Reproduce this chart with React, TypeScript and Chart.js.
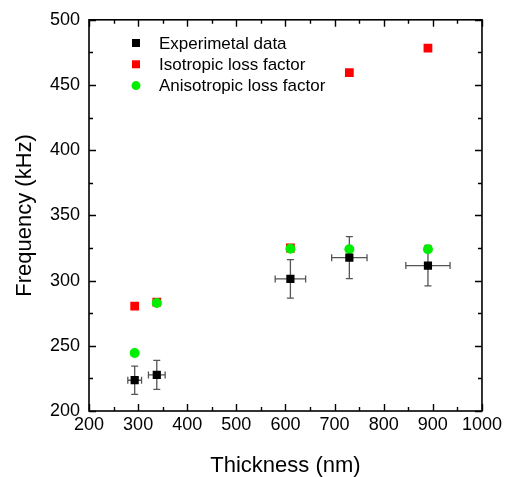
import React, { useEffect, useRef } from "react";
import { Chart, registerables } from "chart.js";

Chart.register(...registerables);

// ---- data ----
const seriesNames = ["Experimetal data", "Isotropic loss factor", "Anisotropic loss factor"];
const thickness = [293, 338, 610, 730, 890];
const thicknessErr = [14, 17, 31, 36, 45];
const expFreq = [223.6, 227.7, 301.3, 317.6, 311.5];
const expFreqErr = [10.8, 11.1, 14.8, 16.1, 15.5];
const isoFreq = [280.5, 283.5, 325, 459.5, 478.3];
const anisoFreq = [244.5, 282.8, 324.4, 324, 324];
const xMin = 200, xMax = 1000, xStep = 100;
const yMin = 200, yMax = 500, yStep = 50;

const FONT = "'Liberation Sans', Arial, sans-serif";
const BLACK = "#000000";
const RED = "#ff0000";
const GREEN = "#00ee00";

const errorBarPlugin = {
  id: "errorBars",
  beforeDatasetsDraw(chart: any) {
    const { ctx, scales } = chart;
    const xs = scales.x, ys = scales.y;
    ctx.save();
    ctx.strokeStyle = "#555555";
    ctx.lineWidth = 1.3;
    const cap = 3.5;
    thickness.forEach((t, i) => {
      const px = xs.getPixelForValue(t);
      const py = ys.getPixelForValue(expFreq[i]);
      const x1 = xs.getPixelForValue(t - thicknessErr[i]);
      const x2 = xs.getPixelForValue(t + thicknessErr[i]);
      const y1 = ys.getPixelForValue(expFreq[i] + expFreqErr[i]);
      const y2 = ys.getPixelForValue(expFreq[i] - expFreqErr[i]);
      ctx.beginPath();
      ctx.moveTo(x1, py); ctx.lineTo(x2, py);
      ctx.moveTo(x1, py - cap); ctx.lineTo(x1, py + cap);
      ctx.moveTo(x2, py - cap); ctx.lineTo(x2, py + cap);
      ctx.moveTo(px, y1); ctx.lineTo(px, y2);
      ctx.moveTo(px - cap, y1); ctx.lineTo(px + cap, y1);
      ctx.moveTo(px - cap, y2); ctx.lineTo(px + cap, y2);
      ctx.stroke();
    });
    ctx.restore();
  },
};

const framePlugin = {
  id: "frameTicks",
  afterDraw(chart: any) {
    const { ctx, chartArea: a, scales } = chart;
    const xs = scales.x, ys = scales.y;
    ctx.save();
    ctx.strokeStyle = "#000";
    ctx.lineWidth = 1.4;
    ctx.beginPath();
    const major = 7, minor = 4;
    for (let v = xMin; v <= xMax; v += xStep / 2) {
      const p = Math.round(xs.getPixelForValue(v)) + 0.5;
      const len = (v - xMin) % xStep === 0 ? major : minor;
      ctx.moveTo(p, a.bottom); ctx.lineTo(p, a.bottom - len);
      ctx.moveTo(p, a.top); ctx.lineTo(p, a.top + len);
    }
    for (let v = yMin; v <= yMax; v += yStep / 2) {
      const p = Math.round(ys.getPixelForValue(v)) + 0.5;
      const len = (v - yMin) % yStep === 0 ? major : minor;
      ctx.moveTo(a.left, p); ctx.lineTo(a.left + len, p);
      ctx.moveTo(a.right, p); ctx.lineTo(a.right - len, p);
    }
    ctx.stroke();
    ctx.lineWidth = 1.6;
    ctx.strokeRect(a.left, a.top, a.right - a.left, a.bottom - a.top);

    // legend
    const colors = [BLACK, RED, GREEN];
    const styles = ["rect", "rect", "circle"];
    const lx = 136, ly = 43, gap = 21.3;
    ctx.font = `17px ${FONT}`;
    ctx.textBaseline = "middle";
    ctx.textAlign = "left";
    seriesNames.forEach((name, i) => {
      const y = ly + i * gap;
      ctx.fillStyle = colors[i];
      if (styles[i] === "rect") {
        ctx.fillRect(lx - 4, y - 4, 8, 8);
      } else {
        ctx.beginPath();
        ctx.arc(lx, y, 4.5, 0, Math.PI * 2);
        ctx.fill();
      }
      ctx.fillStyle = "#000";
      ctx.fillText(name, 159, y + 1);
    });
    ctx.restore();
  },
};

export default function App() {
  const ref = useRef<HTMLCanvasElement | null>(null);
  useEffect(() => {
    if (!ref.current) return;
    const mk = (arr: number[]) => thickness.map((t, i) => ({ x: t, y: arr[i] }));
    const chart = new Chart(ref.current, {
      type: "scatter",
      data: {
        datasets: [
          {
            label: seriesNames[0],
            data: mk(expFreq),
            backgroundColor: BLACK,
            borderColor: BLACK,
            pointStyle: "rect",
            pointRadius: 5.8,
            borderWidth: 0,
            order: 0,
          },
          {
            label: seriesNames[1],
            data: mk(isoFreq),
            backgroundColor: RED,
            borderColor: RED,
            pointStyle: "rect",
            pointRadius: 6.2,
            borderWidth: 0,
            order: 2,
          },
          {
            label: seriesNames[2],
            data: mk(anisoFreq),
            backgroundColor: GREEN,
            borderColor: GREEN,
            pointStyle: "circle",
            pointRadius: 5,
            borderWidth: 0,
            order: 1,
          },
        ],
      },
      options: {
        animation: false,
        responsive: false,
        maintainAspectRatio: false,
        layout: { padding: { top: 19, right: 22, left: 0, bottom: 0 } },
        plugins: { legend: { display: false }, tooltip: { enabled: false } },
        scales: {
          x: {
            type: "linear",
            min: xMin,
            max: xMax,
            grid: { display: false, drawTicks: false },
            border: { display: false },
            ticks: {
              stepSize: xStep,
              padding: 3,
              color: "#000",
              font: { family: FONT, size: 18 },
              maxRotation: 0,
              callback: (v: any) => String(v),
            },
            title: {
              display: true,
              text: "Thickness (nm)",
              color: "#000",
              font: { family: FONT, size: 22 },
              padding: { top: 0, bottom: -2 },
            },
            afterFit: (s: any) => { s.height = 66; },
          },
          y: {
            type: "linear",
            min: yMin,
            max: yMax,
            grid: { display: false, drawTicks: false },
            border: { display: false },
            ticks: {
              stepSize: yStep,
              padding: 9,
              color: "#000",
              font: { family: FONT, size: 18 },
              callback: (v: any) => String(v),
            },
            title: {
              display: true,
              text: "Frequency (kHz)",
              color: "#000",
              font: { family: FONT, size: 22 },
              padding: { top: 12, bottom: 0 },
            },
            afterFit: (s: any) => { s.width = 89; },
          },
        },
      } as any,
      plugins: [errorBarPlugin, framePlugin],
    });
    return () => chart.destroy();
  }, []);
  return (
    <div style={{ position: "fixed", left: 0, top: 0, width: 505, height: 477, background: "#fff" }}>
      <canvas ref={ref} width={505} height={477} style={{ display: "block", width: 505, height: 477 }} />
    </div>
  );
}
